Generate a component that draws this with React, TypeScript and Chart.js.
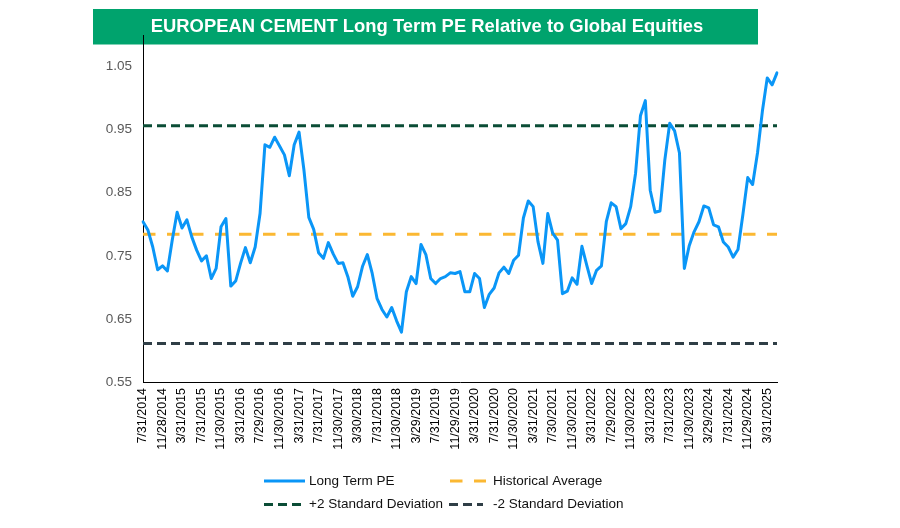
import React, { useEffect, useRef } from 'react';
import { Chart, registerables } from 'chart.js';

Chart.register(...registerables);

// ---------- DATA ----------
const chartTitle = 'EUROPEAN CEMENT Long Term PE Relative to Global Equities';
const seriesNames = ['Long Term PE', 'Historical Average', '+2 Standard Deviation', '-2 Standard Deviation'];

// month-end (last business day) categories, July 2014 .. May 2025
const firstYear = 2014;
const firstMonthIndex = 6; // July
const monthCount = 131;

const longTermPE = [
  0.804, 0.791, 0.764, 0.728, 0.734, 0.726, 0.775, 0.819, 0.794, 0.807,
  0.780, 0.759, 0.742, 0.750, 0.714, 0.730, 0.796, 0.809, 0.702, 0.710,
  0.738, 0.763, 0.739, 0.764, 0.817, 0.926, 0.922, 0.938, 0.924, 0.910,
  0.877, 0.926, 0.946, 0.886, 0.811, 0.792, 0.755, 0.746, 0.771, 0.753,
  0.738, 0.739, 0.717, 0.686, 0.701, 0.733, 0.752, 0.722, 0.682, 0.665,
  0.653, 0.668, 0.647, 0.629, 0.693, 0.717, 0.706, 0.768, 0.752, 0.714,
  0.706, 0.714, 0.717, 0.723, 0.722, 0.725, 0.693, 0.693, 0.722, 0.714,
  0.668, 0.689, 0.699, 0.723, 0.732, 0.722, 0.743, 0.751, 0.810, 0.837,
  0.828, 0.772, 0.738, 0.817, 0.786, 0.775, 0.690, 0.694, 0.715, 0.705,
  0.765, 0.735, 0.706, 0.727, 0.734, 0.804, 0.834, 0.828, 0.793, 0.801,
  0.828, 0.881, 0.972, 0.996, 0.854, 0.819, 0.821, 0.902, 0.960, 0.948,
  0.913, 0.730, 0.766, 0.788, 0.804, 0.829, 0.826, 0.799, 0.796, 0.772,
  0.764, 0.748, 0.760, 0.815, 0.874, 0.863, 0.913, 0.979, 1.032, 1.021,
  1.040,
];

const historicalAverage = 0.784;
const plusTwoStdDev = 0.956;
const minusTwoStdDev = 0.611;

const yTickValues = [0.55, 0.65, 0.75, 0.85, 0.95, 1.05];
const yAxisMin = 0.55;
const yAxisMax = 1.1;
const xLabelEvery = 4;

function lastWeekdayLabel(year: number, monthIndex: number): string {
  const d = new Date(Date.UTC(year, monthIndex + 1, 0));
  while (d.getUTCDay() === 0 || d.getUTCDay() === 6) d.setUTCDate(d.getUTCDate() - 1);
  return `${d.getUTCMonth() + 1}/${d.getUTCDate()}/${d.getUTCFullYear()}`;
}

const categories: string[] = [];
for (let i = 0; i < monthCount; i++) {
  const m = firstMonthIndex + i;
  categories.push(lastWeekdayLabel(firstYear + Math.floor(m / 12), m % 12));
}

// ---------- STYLE ----------
const FONT = "'Liberation Sans', Arial, Helvetica, sans-serif";
const COLORS = {
  pe: '#0A96F7',
  avg: '#FBB832',
  plus: '#0B4D36',
  minus: '#2F3E46',
  title: '#00A36D',
};

const titlePlugin = {
  id: 'titleBox',
  beforeDraw(chart: any) {
    const ctx = chart.ctx;
    ctx.save();
    ctx.fillStyle = COLORS.title;
    ctx.fillRect(93, 9, 665, 35.5);
    ctx.fillStyle = '#ffffff';
    ctx.font = `bold 18.4px ${FONT}`;
    ctx.textAlign = 'center';
    ctx.textBaseline = 'middle';
    ctx.fillText(chartTitle, 427, 27);
    ctx.restore();
  },
};

const legendPlugin = {
  id: 'twoByTwoLegend',
  afterDraw(chart: any) {
    const ctx = chart.ctx;
    const slots = [
      { x0: 264, x1: 305, tx: 309, y: 481 },
      { x0: 450, x1: 486, tx: 493, y: 481 },
      { x0: 264, x1: 301, tx: 309, y: 504.5 },
      { x0: 449, x1: 483, tx: 493, y: 504.5 },
    ];
    chart.data.datasets.forEach((ds: any, i: number) => {
      const s = slots[i];
      if (!s) return;
      ctx.save();
      ctx.strokeStyle = ds.borderColor;
      ctx.lineWidth = ds.borderWidth;
      ctx.setLineDash(ds.borderDash || []);
      ctx.lineCap = 'butt';
      ctx.beginPath();
      ctx.moveTo(s.x0, s.y);
      ctx.lineTo(s.x1, s.y);
      ctx.stroke();
      ctx.setLineDash([]);
      ctx.fillStyle = '#111111';
      ctx.font = `13.5px ${FONT}`;
      ctx.textAlign = 'left';
      ctx.textBaseline = 'middle';
      ctx.fillText(ds.label, s.tx, s.y);
      ctx.restore();
    });
  },
};

function refLine(label: string, value: number, color: string, dash: number[]) {
  return {
    label,
    data: [
      { x: categories[0], y: value },
      { x: categories[categories.length - 1], y: value },
    ],
    borderColor: color,
    backgroundColor: color,
    borderWidth: 3,
    borderDash: dash,
    borderCapStyle: 'butt',
    pointRadius: 0,
    tension: 0,
    fill: false,
  };
}

export default function App() {
  const canvasRef = useRef<HTMLCanvasElement | null>(null);

  useEffect(() => {
    if (!canvasRef.current) return;
    const chart = new Chart(canvasRef.current, {
      type: 'line',
      data: {
        labels: categories,
        datasets: [
          {
            label: seriesNames[0],
            data: longTermPE,
            borderColor: COLORS.pe,
            backgroundColor: COLORS.pe,
            borderWidth: 3,
            borderJoinStyle: 'round',
            borderCapStyle: 'round',
            pointRadius: 0,
            tension: 0,
            fill: false,
          },
          refLine(seriesNames[1], historicalAverage, COLORS.avg, [12.5, 11.5]),
          refLine(seriesNames[2], plusTwoStdDev, COLORS.plus, [9, 5]),
          refLine(seriesNames[3], minusTwoStdDev, COLORS.minus, [9, 5]),
        ] as any,
      },
      options: {
        responsive: false,
        animation: false,
        events: [],
        layout: { padding: { left: 0, right: 123, top: 35, bottom: 0 } },
        plugins: {
          legend: { display: false },
          title: { display: false },
          tooltip: { enabled: false },
        },
        scales: {
          x: {
            type: 'category',
            offset: false,
            grid: { display: false, drawTicks: false, tickLength: 0 },
            border: { display: true, color: '#000000', width: 1 },
            ticks: {
              autoSkip: false,
              minRotation: 90,
              maxRotation: 90,
              padding: 6,
              color: '#000000',
              font: { family: FONT, size: 12.5 },
              callback: function (this: any, value: any, index: number) {
                return index % xLabelEvery === 0 ? this.getLabelForValue(value) : '';
              },
            },
            afterFit(scale: any) {
              scale.height = 146;
            },
          },
          y: {
            type: 'linear',
            min: yAxisMin,
            max: yAxisMax,
            grid: { display: false, drawTicks: false, tickLength: 0 },
            border: { display: true, color: '#000000', width: 1 },
            ticks: {
              padding: 11,
              color: '#595959',
              font: { family: FONT, size: 13.5 },
              callback: (value: any) => Number(value).toFixed(2),
            },
            afterBuildTicks(scale: any) {
              scale.ticks = yTickValues.map((v) => ({ value: v }));
            },
            afterFit(scale: any) {
              scale.width = 143;
            },
          },
        },
      } as any,
      plugins: [titlePlugin, legendPlugin],
    });
    return () => chart.destroy();
  }, []);

  return (
    <div style={{ position: 'absolute', left: 0, top: 0, width: 900, height: 528, background: '#ffffff' }}>
      <canvas ref={canvasRef} width={900} height={528} style={{ width: 900, height: 528, display: 'block' }} />
    </div>
  );
}
